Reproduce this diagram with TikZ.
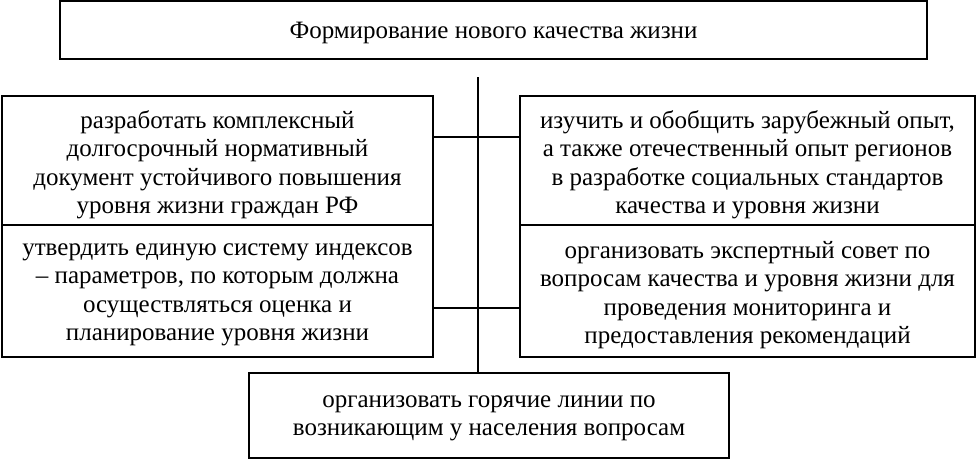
\documentclass[tikz,border=0pt]{standalone}
\usepackage{fontspec}
\setmainfont{Liberation Serif}
\begin{document}
\begin{tikzpicture}[x=1pt,y=-1pt,
  box/.style={draw, line width=2.2pt, rectangle, inner sep=0pt},
  txt/.style={align=center, inner sep=0pt, yshift=-4pt,
    font=\fontsize{25}{28.5}\selectfont},
  conn/.style={line width=1.8pt}]
\useasboundingbox (0,0) rectangle (976,460);
\node[box, minimum width=867, minimum height=58,
  label={[txt,yshift=1pt]center:Формирование нового качества жизни}] (top) at (493.5,30) {};
\node[box, minimum width=431, minimum height=129,
  label={[txt]center:{разработать комплексный\\долгосрочный нормативный\\документ устойчивого повышения\\уровня жизни граждан РФ}}] (lu) at (217.5,160.5) {};
\node[box, minimum width=431, minimum height=132,
  label={[txt]center:{утвердить единую систему индексов\\– параметров, по которым должна\\осуществляться оценка и\\планирование уровня жизни}}] (ll) at (217.5,291) {};
\node[box, minimum width=455, minimum height=129,
  label={[txt]center:{изучить и обобщить зарубежный опыт,\\а также отечественный опыт регионов\\в разработке социальных стандартов\\качества и уровня жизни}}] (ru) at (747.5,160.5) {};
\node[box, minimum width=455, minimum height=132,
  label={[txt]center:{организовать экспертный совет по\\вопросам качества и уровня жизни для\\проведения мониторинга и\\предоставления рекомендаций}}] (rl) at (747.5,291) {};
\node[box, minimum width=480, minimum height=85,
  label={[txt,yshift=1pt]center:{организовать горячие линии по\\возникающим у населения вопросам}}] (bot) at (489,415.5) {};
\coordinate (vtop) at (478,77);
\coordinate (h1) at (478,137);
\coordinate (h2) at (478,308);
\draw[conn] (vtop) -- (vtop |- bot.north);
\draw[conn] (lu.east |- h1) -- (ru.west |- h1);
\draw[conn] (ll.east |- h2) -- (rl.west |- h2);
\end{tikzpicture}
\end{document}
